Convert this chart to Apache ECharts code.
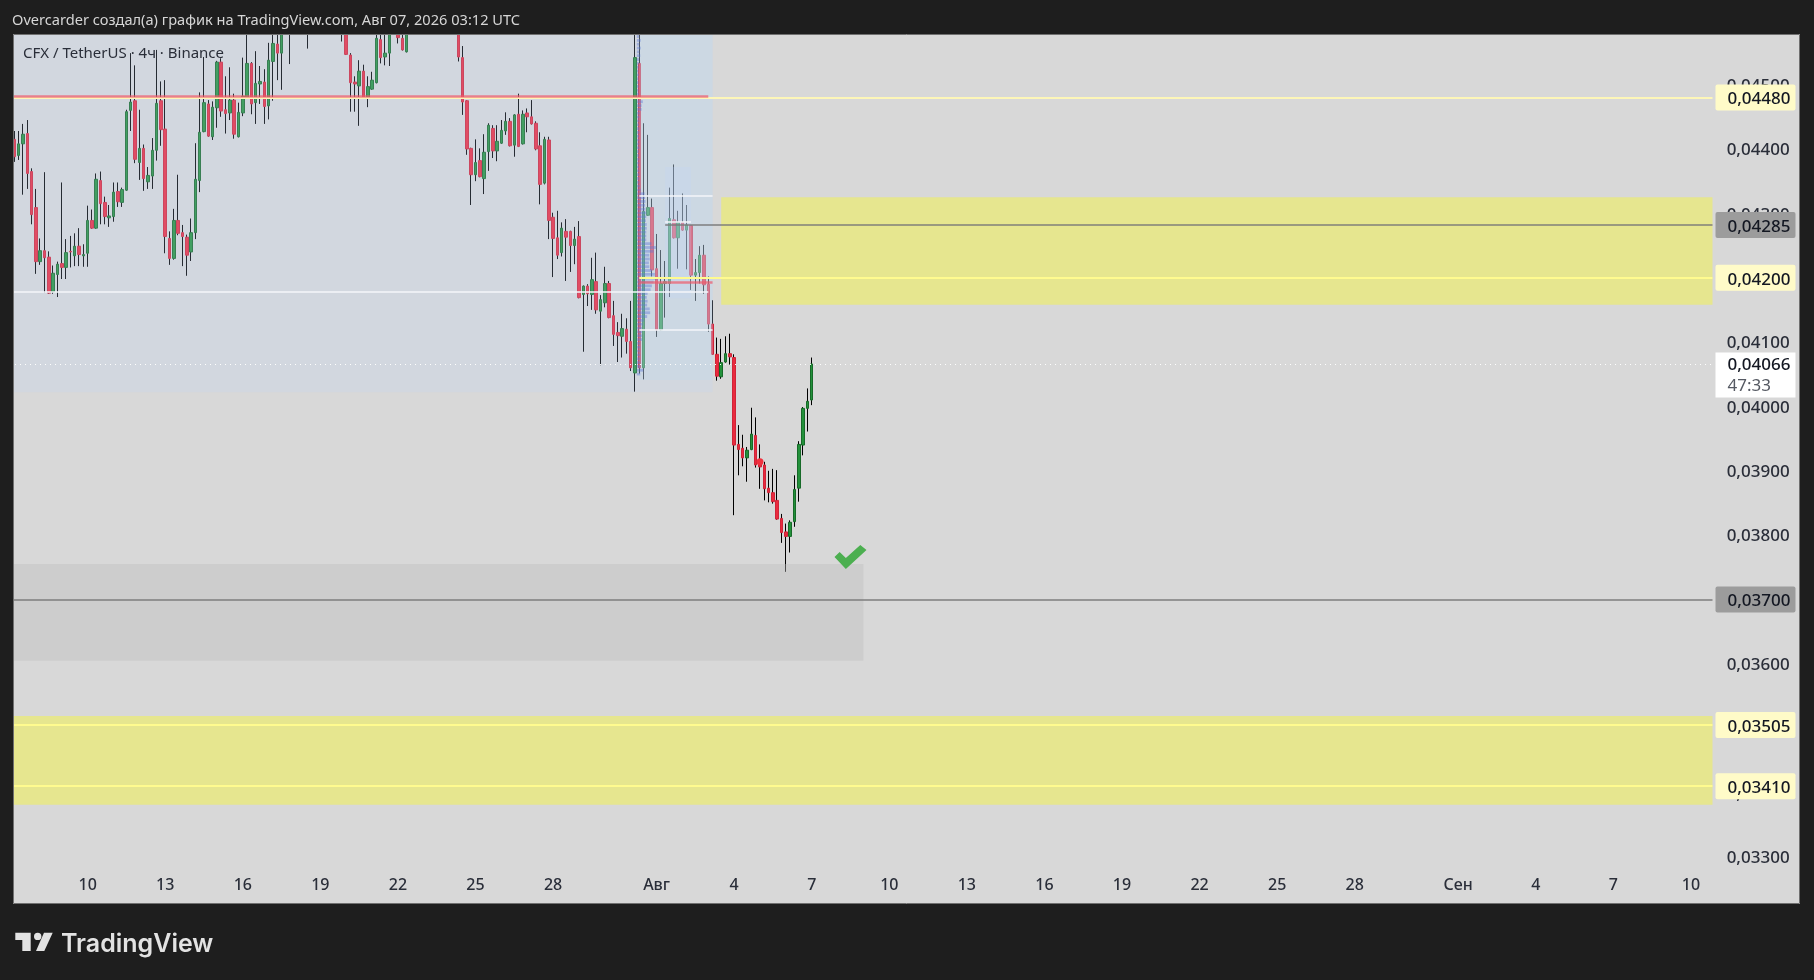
<!DOCTYPE html>
<html>
<head>
<meta charset="utf-8">
<title>CFX / TetherUS</title>
<style>
html, body { margin: 0; padding: 0; background: #1e1e1e; }
#chart { width: 1814px; height: 980px; }
</style>
<script src="https://cdn.jsdelivr.net/npm/echarts@6/dist/echarts.min.js"></script>
</head>
<body>
<div id="chart"></div>
<script>
// 4h candles, price x 1e5: [open, close, low, high]
var ohlc = [
  [4400,4415,4395,4430],
  [4415,4388,4380,4428],[4390,4408,4383,4428],[4408,4423,4329,4439],[4424,4362,4338,4445],[4365,4298,4283,4370],
  [4309,4225,4206,4338],[4225,4242,4220,4261],[4242,4231,4177,4364],[4232,4176,4175,4241],[4178,4207,4175,4219],
  [4205,4221,4170,4225],[4222,4216,4198,4348],[4216,4239,4198,4260],[4241,4240,4216,4265],[4234,4249,4218,4269],
  [4249,4236,4218,4277],[4234,4236,4217,4252],[4238,4289,4217,4312],[4289,4277,4276,4306],[4277,4353,4276,4362],
  [4351,4315,4283,4365],[4317,4295,4283,4326],[4293,4296,4279,4313],[4295,4333,4287,4348],[4334,4318,4310,4348],
  [4317,4337,4310,4340],[4336,4458,4335,4461],[4460,4473,4428,4549],[4475,4384,4378,4530],[4379,4401,4352,4461],
  [4401,4354,4335,4407],[4349,4359,4338,4372],[4358,4398,4338,4417],[4398,4471,4382,4554],[4475,4430,4405,4505],
  [4431,4264,4238,4507],[4261,4230,4220,4272],[4230,4289,4228,4307],[4289,4269,4266,4360],[4270,4264,4218,4282],
  [4263,4235,4203,4267],[4240,4270,4226,4292],[4270,4353,4260,4409],[4351,4426,4333,4488],[4427,4472,4426,4543],
  [4470,4420,4419,4476],[4419,4465,4414,4474],[4464,4535,4433,4537],[4535,4459,4450,4541],[4461,4455,4424,4513],
  [4456,4476,4445,4527],[4476,4423,4416,4486],[4419,4457,4418,4472],[4456,4482,4451,4542],[4479,4533,4478,4590],
  [4533,4470,4454,4535],[4472,4502,4439,4552],[4501,4505,4470,4529],[4504,4466,4439,4524],[4467,4538,4446,4565],
  [4536,4564,4475,4590],[4563,4549,4507,4595],[4549,4600,4492,4625],[4605,4620,4590,4640],[4620,4610,4532,4650],
  [4610,4630,4578,4650],[4630,4650,4600,4670],[4650,4640,4610,4680],[4640,4625,4556,4660],[4625,4635,4600,4655],
  [4635,4650,4610,4670],[4650,4660,4625,4690],[4660,4640,4620,4680],[4640,4630,4600,4660],[4630,4625,4590,4650],
  [4625,4620,4595,4645],[4620,4600,4567,4640],[4600,4547,4546,4620],[4546,4503,4458,4549],[4504,4501,4458,4513],
  [4498,4521,4436,4538],[4521,4479,4478,4531],[4479,4497,4465,4513],[4493,4507,4492,4520],[4503,4572,4502,4600],
  [4570,4542,4533,4600],[4543,4549,4530,4595],[4549,4590,4529,4610],[4590,4600,4580,4620],[4605,4573,4564,4615],
  [4572,4554,4553,4590],[4551,4590,4550,4610],[4590,4605,4582,4625],[4605,4620,4590,4640],[4620,4610,4595,4640],
  [4610,4625,4595,4645],[4625,4640,4610,4660],[4640,4630,4615,4655],[4630,4615,4600,4650],[4615,4625,4600,4640],
  [4625,4635,4610,4650],[4635,4620,4600,4650],[4620,4610,4590,4640],[4610,4543,4536,4625],[4542,4473,4453,4560],
  [4475,4400,4391,4476],[4401,4360,4313,4402],[4360,4379,4350,4415],[4382,4357,4356,4401],[4354,4395,4330,4423],
  [4396,4437,4366,4440],[4432,4397,4386,4437],[4397,4412,4381,4437],[4409,4429,4408,4445],[4428,4443,4422,4457],
  [4443,4405,4404,4448],[4406,4453,4388,4454],[4454,4404,4403,4486],[4408,4454,4407,4460],[4456,4450,4426,4463],
  [4450,4439,4438,4476],[4440,4400,4398,4443],[4405,4345,4314,4426],[4347,4415,4345,4419],[4414,4289,4260,4419],
  [4294,4261,4201,4301],[4262,4235,4229,4304],[4239,4277,4233,4286],[4272,4263,4195,4291],[4272,4250,4209,4273],
  [4250,4260,4221,4279],[4264,4169,4168,4288],[4174,4187,4085,4188],[4187,4175,4156,4190],[4174,4197,4150,4231],
  [4194,4150,4144,4239],[4148,4166,4064,4173],[4161,4191,4154,4217],[4191,4138,4137,4195],[4141,4112,4094,4164],
  [4115,4110,4069,4131],[4109,4121,4076,4144],[4120,4101,4082,4137],[4101,4060,4055,4164],[4052,4542,4023,4600],
  [4533,4060,4051,4605],[4060,4303,4042,4440],[4297,4309,4296,4422],[4309,4212,4202,4323],[4214,4119,4108,4268],
  [4119,4191,4118,4243],[4191,4194,4138,4226],[4191,4292,4170,4340],[4290,4262,4261,4376],[4262,4286,4214,4304],
  [4286,4274,4273,4331],[4274,4282,4213,4313],[4281,4204,4181,4282],[4204,4208,4164,4229],[4208,4235,4191,4249],
  [4235,4189,4175,4251],[4190,4128,4116,4202],[4128,4081,4080,4165],[4081,4047,4040,4107],[4046,4068,4043,4105],
  [4069,4082,4068,4109],[4082,4077,4065,4113],[4076,3940,3831,4081],[3941,3933,3893,3971],[3935,3920,3907,3956],
  [3920,3932,3883,3937],[3933,3957,3932,3998],[3955,3909,3905,3983],[3916,3906,3872,3941],[3909,3872,3854,3914],
  [3873,3866,3851,3900],[3866,3852,3849,3903],[3854,3825,3824,3901],[3826,3804,3788,3833],[3805,3798,3743,3818],
  [3798,3820,3773,3823],[3821,3871,3813,3893],[3873,3941,3852,3946],[3940,3997,3924,3999],[3997,4008,3961,4028],
  [4010,4066,4002,4076]
];

var yTicks = [0.033, 0.034, 0.035, 0.036, 0.037, 0.038, 0.039, 0.040, 0.041, 0.042, 0.043, 0.044, 0.045];

// day labels on the time scale
var xTickDates = ['07-10','07-13','07-16','07-19','07-22','07-25','07-28','08-01','08-04','08-07','08-10','08-13','08-16','08-19','08-22','08-25','08-28','09-01','09-04','09-07','09-10'];
var xTickNames = ['10','13','16','19','22','25','28','Авг','4','7','10','13','16','19','22','25','28','Сен','4','7','10'];

// volume profile rows, top to bottom, width counted in candles
var vpVolume = [
  0.5,0.9,0.6,0.9,0.6,0.8,0.5,0.5,0.4,0.4,0.5,0.4,0.4,0.4,0.4,0.5,0.5,1.4,1.1,1.1,
  0.7,0.6,0.6,0.5,0.6,0.6,0.5,0.6,0.6,0.6,0.5,0.5,0.6,0.6,0.5,0.6,0.6,0.6,0.6,0.7,
  0.9,1.8,1.9,2.0,1.9,2.0,2.2,2.2,2.1,2.3,2.3,2.2,2.2,2.2,3.4,4.5,3.9,2.9,3.0,2.8,
  2.9,3.5,4.2,4.8,3.9,3.5,3.2,2.5,2.3,2.5,2.4,3.0,3.1,2.4,1.6,1.4,1.2,1.2,1.2,1.2,
  0.8,0.8,0.8,0.8,0.8,0.8,0.8,1.5,0.8
];
var vpTop = 0.04574;
var vpStep = 0.0000596;

// horizontal levels: price, first and last candle index, tag text
var yellowLevels = [[0.0448, 0, 395, '0,04480'], [0.042, 146, 395, '0,04200'], [0.03505, 0, 395, '0,03505'], [0.0341, 0, 395, '0,03410']];
var grayLevels = [[0.04282, 152, 395, '0,04285'], [0.037, 0, 395, '0,03700']];
var redLevels = [[0.04482, 0, 162], [0.04193, 146, 163]];
var whiteLevels = [[0.04328, 146, 163], [0.04287, 152, 158], [0.04178, 0, 162], [0.04119, 146, 163]];
var lastPrice = 0.04066;
var lastCountdown = '47:33';

// boxes: first index, last index, top price, bottom price
var yellowZones = [[165, 395, 0.04325, 0.04158], [0, 395, 0.03519, 0.03381]];
var grayZone = [0, 198, 0.03755, 0.03605];
var sessionZone = [0, 163, 0.04579, 0.04022];
var anchorZone = [146, 163, 0.04579, 0.04041];
var innerZone = [152, 158, 0.04372, 0.04168];

var checkMark = [195, 0.03766];
var redDot = [174, 0.03914];

function makeCategories() {
  var list = [];
  var start = Date.UTC(2026, 6, 7, 0);
  for (var i = 0; i < 396; i++) {
    var d = new Date(start + i * 4 * 3600 * 1000);
    var mm = ('0' + (d.getUTCMonth() + 1)).slice(-2);
    var dd = ('0' + d.getUTCDate()).slice(-2);
    var hh = ('0' + d.getUTCHours()).slice(-2);
    list.push(mm + '-' + dd + ' ' + hh);
  }
  return list;
}
var categories = makeCategories();

function fmtPrice(v) {
  return v.toFixed(5).replace('.', ',');
}

function tag(bg, text) {
  return {
    show: true, position: 'end', distance: 3,
    formatter: '{t|' + text + '}',
    backgroundColor: bg,
    width: 60, padding: [3, 8, 3, 12], borderRadius: 2,
    rich: {
      t: {color: '#131722', fontFamily: 'Noto Sans', fontSize: 17, fontWeight: 500, lineHeight: 20, padding: [4, 0, 0, 0]}
    }
  };
}

function levelLine(row, color, width, label) {
  var first = {coord: [row[1], row[0]], lineStyle: {color: color, width: width, type: 'solid', opacity: 1}};
  if (label) first.label = label;
  return [first, {coord: [row[2], row[0]]}];
}

function zone(row, color) {
  return [
    {coord: [row[0], row[2]], itemStyle: {color: color, opacity: 1, borderWidth: 0}},
    {coord: [row[1], row[3]]}
  ];
}

var myChart = echarts.init(document.getElementById('chart'));

var levelData = [];
yellowLevels.forEach(function (r, i) {
  levelData.push(levelLine(r, i == 0 ? '#fdf6b8' : '#fffb8f', 2, tag('#fffbc8', r[3])));
});
grayLevels.forEach(function (r) {
  levelData.push(levelLine(r, 'rgba(120,120,120,0.7)', 2, tag('#9c9c9c', r[3])));
});
redLevels.forEach(function (r) {
  levelData.push(levelLine(r, 'rgba(240,90,105,0.7)', 2.5));
});
whiteLevels.forEach(function (r) {
  levelData.push(levelLine(r, '#f4f6fa', 1.5));
});
var lastLine = levelLine([lastPrice, 0, 395], '#ffffff', 1, {
  show: true, position: 'end', distance: 3, offset: [0, 11],
  formatter: '{a|' + fmtPrice(lastPrice) + '}\n{b|' + lastCountdown + '}',
  backgroundColor: '#ffffff', width: 60, padding: [2, 8, 1, 12],
  rich: {
    a: {color: '#131722', fontFamily: 'Noto Sans', fontSize: 17, fontWeight: 500, lineHeight: 21},
    b: {color: '#555962', fontFamily: 'Noto Sans', fontSize: 17, lineHeight: 21}
  }
});
lastLine[0].lineStyle.type = [1, 4];
levelData.push(lastLine);

var option = {
  animation: false,
  backgroundColor: '#1e1e1e',
  title: [
    {
      text: 'Overcarder создал(а) график на TradingView.com, Авг 07, 2026 03:12 UTC',
      left: 12, top: 13, padding: 0, z: 70,
      textStyle: {color: '#d6d6d6', fontFamily: 'Noto Sans', fontSize: 14.6, fontWeight: 'normal'}
    },
    {
      text: 'CFX / TetherUS · 4ч · Binance',
      left: 23, top: 46, padding: 0, z: 70,
      textStyle: {color: '#2a2e39', fontFamily: 'Noto Sans', fontSize: 15, fontWeight: 'normal'}
    }
  ],
  grid: {left: 7.89, top: 34, width: 1706.76, height: 836},
  xAxis: {
    type: 'category',
    data: categories,
    axisLine: {show: false},
    axisTick: {show: false},
    splitLine: {show: false},
    axisLabel: {
      margin: 7,
      color: '#2a2e39', fontFamily: 'Noto Sans', fontSize: 16, fontWeight: 500,
      interval: function (index, value) {
        return xTickDates.indexOf(value.slice(0, 5)) >= 0 && value.slice(6) == '00';
      },
      formatter: function (value) {
        return xTickNames[xTickDates.indexOf(value.slice(0, 5))];
      }
    }
  },
  yAxis: {
    type: 'value',
    position: 'right',
    min: 0.032797,
    max: 0.045787,
    axisLine: {show: false},
    axisTick: {show: false},
    splitLine: {show: false},
    axisLabel: {
      margin: 12,
      customValues: yTicks,
      formatter: function (v) { return '{v|' + fmtPrice(v) + '}'; },
      rich: {
        v: {color: '#2a2e39', fontFamily: 'Noto Sans', fontSize: 17, fontWeight: 500, padding: [3, 0, 0, 0]}
      }
    }
  },
  graphic: [
    {type: 'rect', z: -10, silent: true, shape: {x: 13, y: 34, width: 1787, height: 870}, style: {fill: '#d8d8d8'}},
    {type: 'rect', z: 60, silent: true, shape: {x: 0, y: 30, width: 13, height: 880}, style: {fill: '#1e1e1e'}},
    {type: 'rect', z: 60, silent: true, shape: {x: 0, y: 0, width: 1814, height: 34}, style: {fill: '#1e1e1e'}},
    {type: 'rect', z: 61, silent: true, shape: {x: 13.5, y: 34.5, width: 1786, height: 869}, style: {fill: 'none', stroke: '#707070', lineWidth: 1}},
    {type: 'polygon', z: 61, silent: true, shape: {points: [[15.3,932.7],[30.7,932.7],[30.7,951],[22.3,951],[22.3,940],[15.3,940]]}, style: {fill: '#e3e3e3'}},
    {type: 'circle', z: 61, silent: true, shape: {cx: 37.7, cy: 936.4, r: 3.7}, style: {fill: '#e3e3e3'}},
    {type: 'polygon', z: 61, silent: true, shape: {points: [[44,932.7],[52.7,932.7],[44.3,951],[36,951]]}, style: {fill: '#e3e3e3'}},
    {type: 'text', z: 61, silent: true, x: 61, y: 932, style: {text: 'TradingView', fill: '#e3e3e3', fontFamily: 'Inter', fontSize: 25, fontWeight: 600}}
  ],
  series: [
    {
      name: 'wicks',
      type: 'candlestick',
      z: 2,
      barWidth: 1,
      data: ohlc.map(function (r) { return [r[0] / 1e5, r[1] / 1e5, r[2] / 1e5, r[3] / 1e5]; }),
      itemStyle: {color: '#000', color0: '#000', borderColor: '#000', borderColor0: '#000', borderWidth: 1}
    },
    {
      name: 'CFX / TetherUS',
      type: 'candlestick',
      z: 3,
      barWidth: 3,
      data: ohlc.map(function (r) {
        return [r[0] / 1e5, r[1] / 1e5, Math.min(r[0], r[1]) / 1e5, Math.max(r[0], r[1]) / 1e5];
      }),
      itemStyle: {color: '#23913b', color0: '#ea2a3e', borderColor: '#176a28', borderColor0: '#cf2438', borderWidth: 1}
    },
    {
      name: 'zones',
      type: 'line',
      z: 4,
      silent: true,
      data: [],
      markArea: {
        silent: true,
        z: 4,
        data: [
          zone(sessionZone, 'rgba(191,216,255,0.2)'),
          zone(anchorZone, 'rgba(191,219,237,0.3)'),
          zone(innerZone, 'rgba(190,215,255,0.2)'),
          zone(grayZone, 'rgba(190,190,190,0.4)'),
          zone(yellowZones[0], '#e6e68f'),
          zone(yellowZones[1], '#e6e68f')
        ]
      }
    },
    {
      name: 'volume profile',
      type: 'custom',
      z: 5,
      silent: true,
      encode: {x: 0, y: 1},
      data: vpVolume.map(function (v, k) { return [146, vpTop - k * vpStep, v]; }),
      renderItem: function (params, api) {
        var p = api.coord([api.value(0), api.value(1)]);
        var band = api.size([1, 0])[0];
        var rowH = api.size([0, vpStep])[1];
        return {
          type: 'rect',
          shape: {x: p[0] - 2.5, y: p[1] - rowH / 2, width: api.value(2) * band, height: rowH - 1},
          style: {fill: 'rgba(90,120,215,0.42)'}
        };
      }
    },
    {
      name: 'levels',
      type: 'line',
      z: 6,
      silent: true,
      data: [],
      markLine: {
        silent: true,
        z: 6,
        symbol: 'none',
        label: {show: false},
        data: levelData
      },
      markPoint: {
        silent: true,
        z: 6,
        label: {show: false},
        data: [
          {
            coord: checkMark,
            symbol: 'path://M0 12 L5 7 L11 13 L25 0 L31 5 L11 24 Z',
            symbolSize: [32, 24],
            itemStyle: {color: '#4caf50'}
          },
          {
            coord: redDot,
            symbol: 'circle',
            symbolSize: 7,
            itemStyle: {color: '#f0323f'}
          }
        ]
      }
    }
  ]
};

myChart.setOption(option);
</script>
</body>
</html>
